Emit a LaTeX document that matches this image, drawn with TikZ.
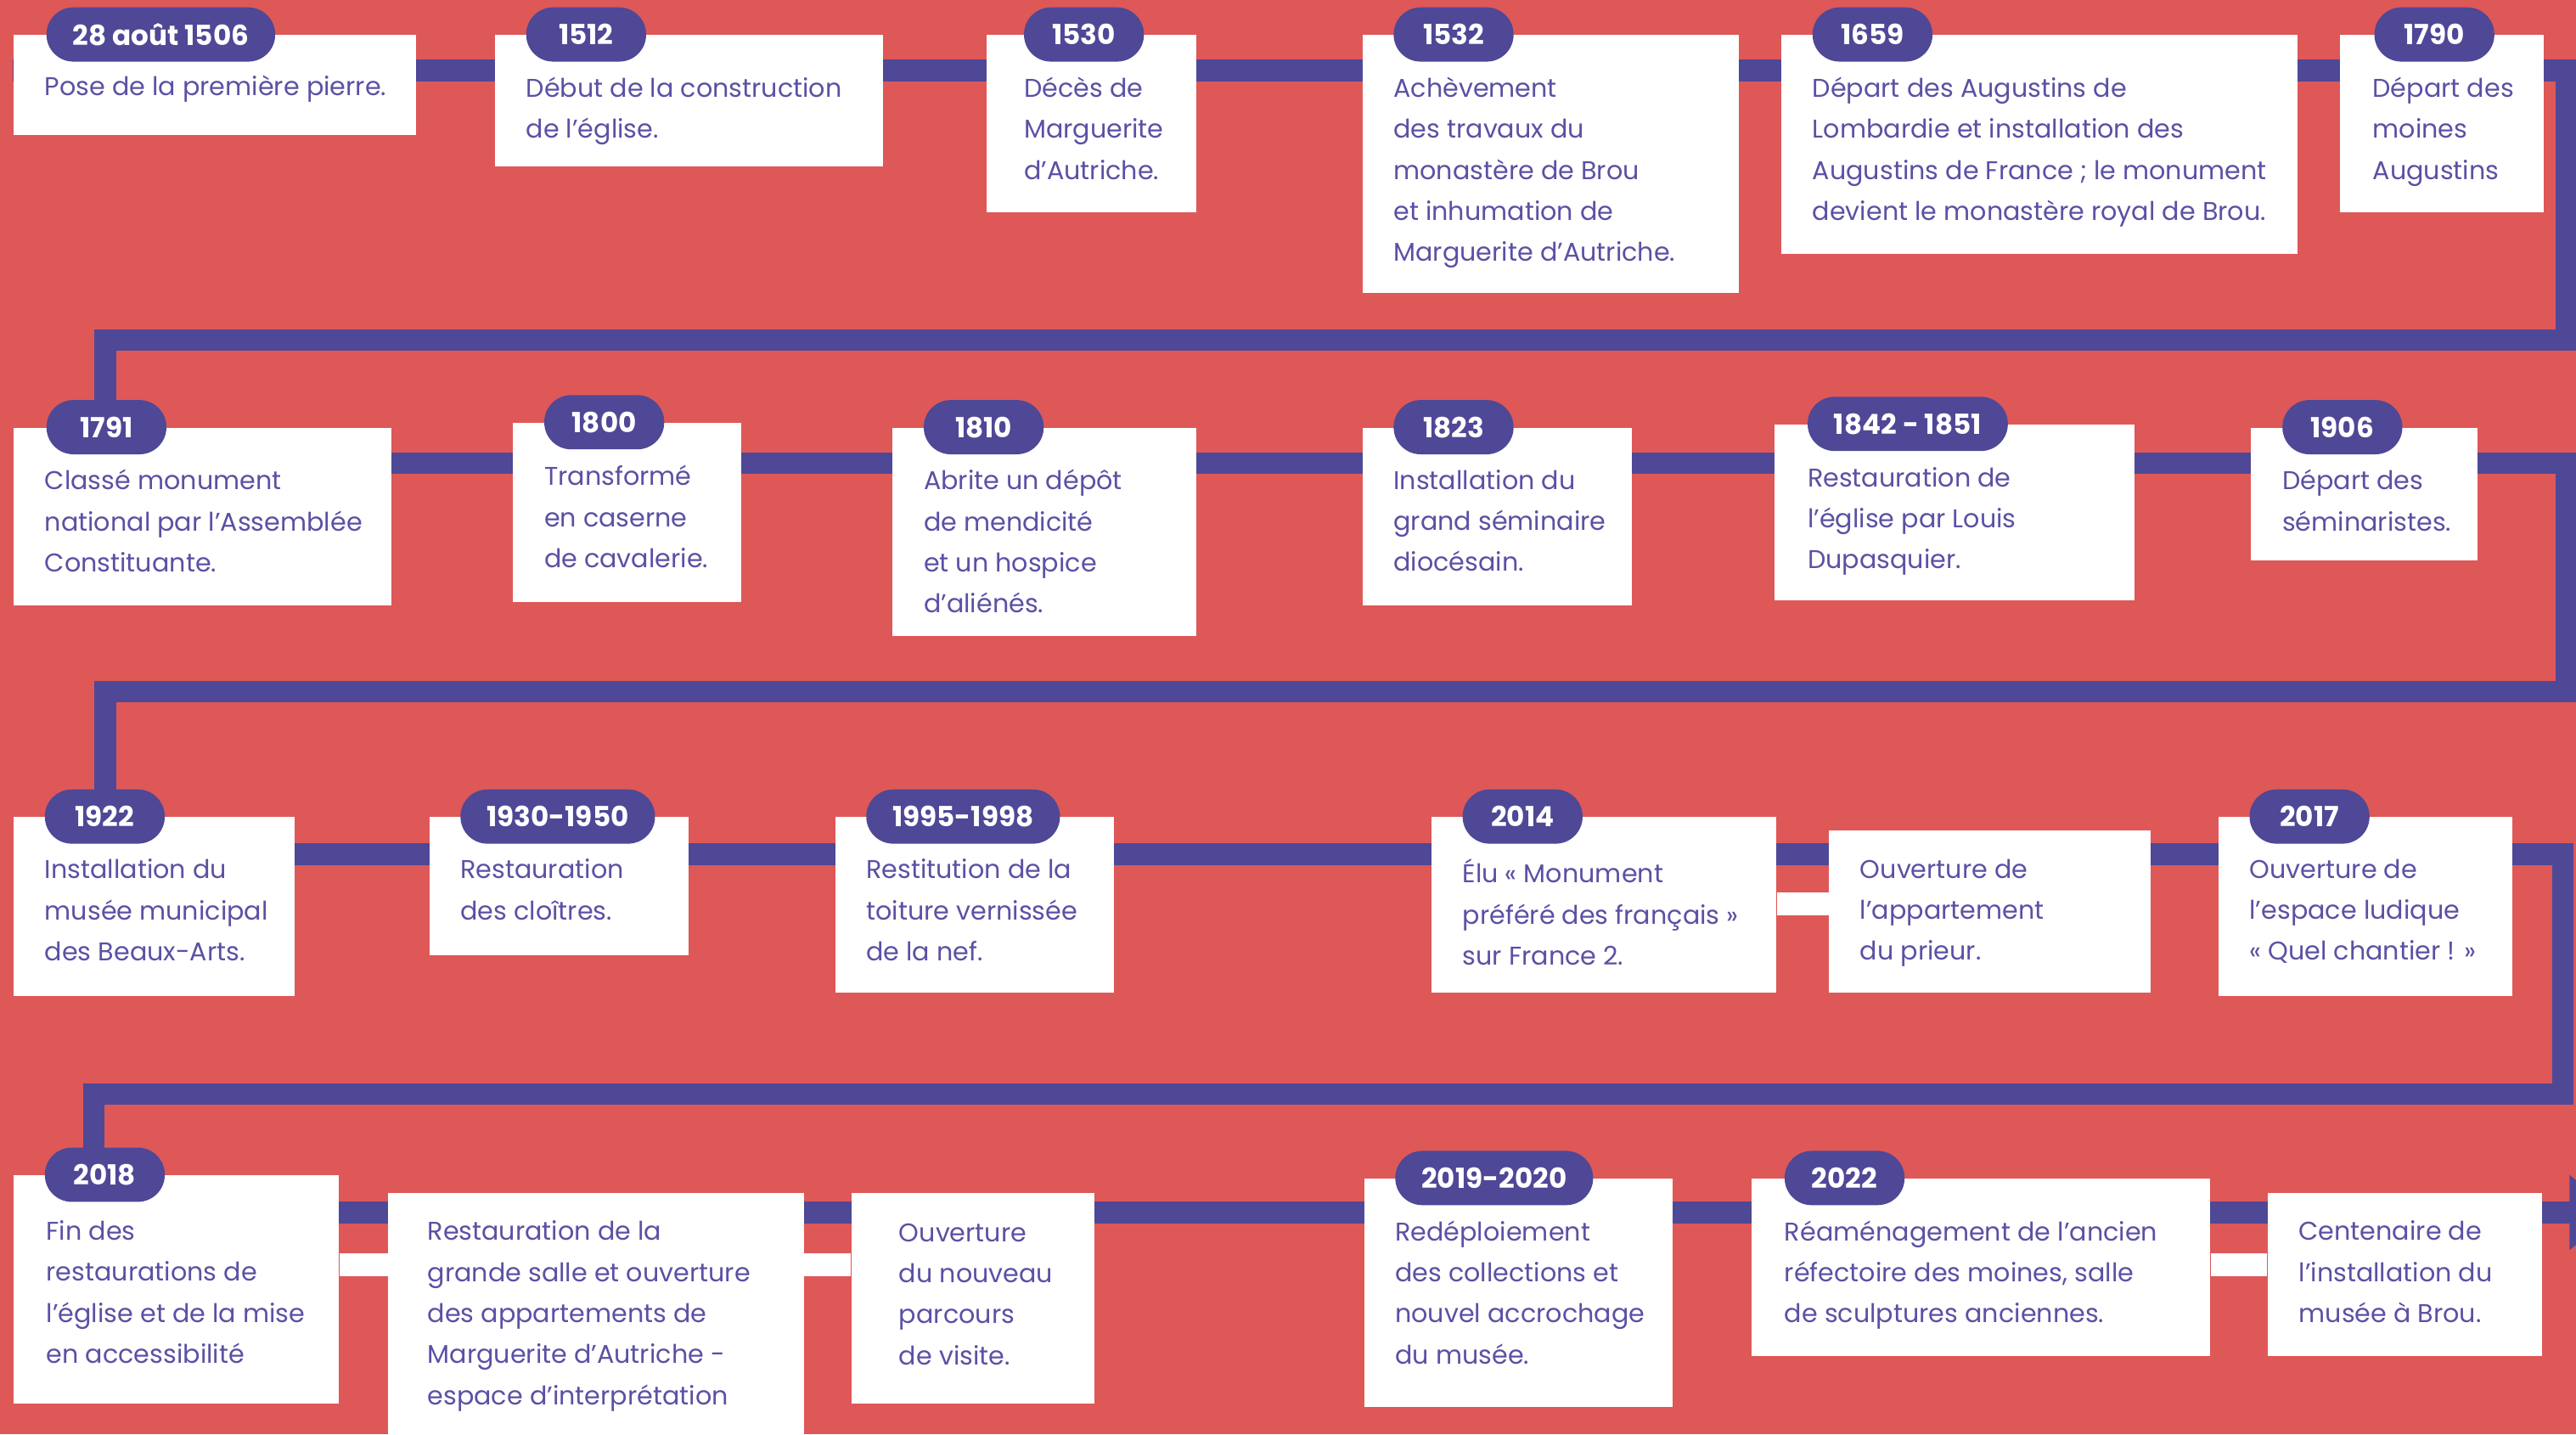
\documentclass[tikz,border=0pt]{standalone}
\usepackage{fontspec}
\setmainfont{Poppins}
\usetikzlibrary{arrows.meta}
\definecolor{brick}{HTML}{DE5858}
\definecolor{indigo}{HTML}{4E4896}
\definecolor{ink}{HTML}{5A51A4}

\begin{document}
\begin{tikzpicture}[x=0.025cm, y=-0.025cm,
    card/.style 2 args={fill=white, anchor=north west, inner sep=0pt,
        minimum width=#1*0.025cm, minimum height=#2*0.025cm},
    txt/.style={anchor=north west, align=left, inner sep=0pt, text=ink,
        font=\fontsize{11.1}{17.78}\selectfont, execute at begin node=\strut},
    year/.style={anchor=west, fill=indigo, text=white, rounded corners=0.41cm,
        minimum height=0.825cm, minimum width=1.825cm, inner xsep=0.4cm, inner ysep=0pt,
        font=\fontsize{12}{14}\selectfont\bfseries},
    spine/.style={draw=indigo, line width=0.33cm, line join=miter},
    link/.style={draw=white, line width=0.35cm}]

    \fill[brick] (0,0) rectangle (1568,873);
    \useasboundingbox (0,0) rectangle (1568,873);

    % the running line, zig-zag through the four rows
    \coordinate (start) at (8,43);
    \coordinate (bend1) at (1562,43);
    \coordinate (bend2) at (1562,207);
    \coordinate (bend3) at (64,207);
    \coordinate (bend4) at (64,282);
    \coordinate (bend5) at (1562,282);
    \coordinate (bend6) at (1562,421);
    \coordinate (bend7) at (64,421);
    \coordinate (bend8) at (64,520);
    \coordinate (bend9) at (1560,520);
    \coordinate (bend10) at (1560,666);
    \coordinate (bend11) at (57,666);
    \coordinate (bend12) at (57,738);
    \coordinate (finish) at (1592,738);
    \draw[spine, -{Triangle[width=1.1cm, length=0.7cm]}] (start) -- (bend1) -- (bend2) -- (bend3)
        -- (bend4) -- (bend5) -- (bend6) -- (bend7) -- (bend8) -- (bend9) -- (bend10)
        -- (bend11) -- (bend12) -- (finish);

    % row 1
    \node[card={245}{61}] (b1506) at (8,21) {};
    \node[txt] (t1506) at ([xshift=0.475cm, yshift=-0.49cm]b1506.north west) {Pose de la première pierre.};
    \node[year] (y1506) at ([xshift=0.5cm]b1506.north west) {28 août 1506};

    \node[card={236}{80}] (b1512) at (301,21) {};
    \node[txt] (t1512) at ([xshift=0.475cm, yshift=-0.64cm]b1512.north west) {Début de la construction\\de l’église.};
    \node[year] (y1512) at ([xshift=0.475cm]b1512.north west) {1512};

    \node[card={128}{108}] (b1530) at (600,21) {};
    \node[txt] (t1530) at ([xshift=0.575cm, yshift=-0.64cm]b1530.north west) {Décès de\\Marguerite\\d’Autriche.};
    \node[year] (y1530) at ([xshift=0.575cm]b1530.north west) {1530};

    \node[card={229}{157}] (b1532) at (829,21) {};
    \node[txt] (t1532) at ([xshift=0.475cm, yshift=-0.64cm]b1532.north west) {Achèvement\\des travaux du\\monastère de Brou\\et inhumation de\\Marguerite d’Autriche.};
    \node[year] (y1532) at ([xshift=0.475cm]b1532.north west) {1532};

    \node[card={314}{133}] (b1659) at (1084,21) {};
    \node[txt] (t1659) at ([xshift=0.475cm, yshift=-0.64cm]b1659.north west) {Départ des Augustins de\\Lombardie et installation des\\Augustins de France ; le monument\\devient le monastère royal de Brou.};
    \node[year] (y1659) at ([xshift=0.475cm]b1659.north west) {1659};

    \node[card={124}{108}] (b1790) at (1424,21) {};
    \node[txt] (t1790) at ([xshift=0.5cm, yshift=-0.64cm]b1790.north west) {Départ des\\moines\\Augustins};
    \node[year] (y1790) at ([xshift=0.525cm]b1790.north west) {1790};

    % row 2
    \node[card={230}{108}] (b1791) at (8,260) {};
    \node[txt] (t1791) at ([xshift=0.475cm, yshift=-0.64cm]b1791.north west) {Classé monument\\national par l’Assemblée\\Constituante.};
    \node[year] (y1791) at ([xshift=0.5cm]b1791.north west) {1791};

    \node[card={139}{109}] (b1800) at (312,257) {};
    \node[txt] (t1800) at ([xshift=0.475cm, yshift=-0.65cm]b1800.north west) {Transformé\\en caserne\\de cavalerie.};
    \node[year] (y1800) at ([xshift=0.475cm]b1800.north west) {1800};

    \node[card={185}{127}] (b1810) at (543,260) {};
    \node[txt] (t1810) at ([xshift=0.475cm, yshift=-0.64cm]b1810.north west) {Abrite un dépôt\\de mendicité\\et un hospice\\d’aliénés.};
    \node[year] (y1810) at ([xshift=0.475cm]b1810.north west) {1810};

    \node[card={164}{108}] (b1823) at (829,260) {};
    \node[txt] (t1823) at ([xshift=0.475cm, yshift=-0.64cm]b1823.north west) {Installation du\\grand séminaire\\diocésain.};
    \node[year] (y1823) at ([xshift=0.475cm]b1823.north west) {1823};

    \node[card={219}{107}] (b1842) at (1080,258) {};
    \node[txt] (t1842) at ([xshift=0.5cm, yshift=-0.65cm]b1842.north west) {Restauration de\\l’église par Louis\\Dupasquier.};
    \node[year] (y1842) at ([xshift=0.5cm]b1842.north west) {1842 - 1851};

    \node[card={138}{81}] (b1906) at (1370,260) {};
    \node[txt] (t1906) at ([xshift=0.475cm, yshift=-0.64cm]b1906.north west) {Départ des\\séminaristes.};
    \node[year] (y1906) at ([xshift=0.475cm]b1906.north west) {1906};

    % row 3
    \node[card={171}{109}] (b1922) at (8,497) {};
    \node[txt] (t1922) at ([xshift=0.475cm, yshift=-0.64cm]b1922.north west) {Installation du\\musée municipal\\des Beaux-Arts.};
    \node[year] (y1922) at ([xshift=0.475cm]b1922.north west) {1922};

    \node[card={158}{84}] (b1930) at (261,497) {};
    \node[txt] (t1930) at ([xshift=0.475cm, yshift=-0.64cm]b1930.north west) {Restauration\\des cloîtres.};
    \node[year] (y1930) at ([xshift=0.475cm]b1930.north west) {1930-1950};

    \node[card={170}{107}] (b1995) at (508,497) {};
    \node[txt] (t1995) at ([xshift=0.475cm, yshift=-0.64cm]b1995.north west) {Restitution de la\\toiture vernissée\\de la nef.};
    \node[year] (y1995) at ([xshift=0.475cm]b1995.north west) {1995-1998};

    \node[card={210}{107}] (b2014) at (871,497) {};
    \node[txt] (t2014) at ([xshift=0.475cm, yshift=-0.64cm]b2014.north west) {Élu « Monument\\préféré des français »\\sur France 2.};
    \node[year] (y2014) at ([xshift=0.475cm]b2014.north west) {2014};

    \node[card={196}{99}] (b2014prieur) at (1113,505) {};
    \node[txt] (t2014prieur) at ([xshift=0.475cm, yshift=-0.44cm]b2014prieur.north west) {Ouverture de\\l’appartement\\du prieur.};

    \node[card={179}{109}] (b2017) at (1350,497) {};
    \node[txt] (t2017) at ([xshift=0.475cm, yshift=-0.64cm]b2017.north west) {Ouverture de\\l’espace ludique\\« Quel chantier ! »};
    \node[year] (y2017) at ([xshift=0.475cm]b2017.north west) {2017};

    % row 4
    \node[card={198}{139}] (b2018) at (8,715) {};
    \node[txt] (t2018) at ([xshift=0.5cm, yshift=-0.69cm]b2018.north west) {Fin des\\restaurations de\\l’église et de la mise\\en accessibilité};
    \node[year] (y2018) at ([xshift=0.475cm]b2018.north west) {2018};

    \node[card={253}{148}] (b2018salle) at (236,726) {};
    \node[txt] (t2018salle) at ([xshift=0.6cm, yshift=-0.42cm]b2018salle.north west) {Restauration de la\\grande salle et ouverture\\des appartements de\\Marguerite d’Autriche -\\espace d’interprétation};

    \node[card={148}{128}] (b2018parcours) at (518,726) {};
    \node[txt] (t2018parcours) at ([xshift=0.725cm, yshift=-0.46cm]b2018parcours.north west) {Ouverture\\du nouveau\\parcours\\de visite.};

    \node[card={188}{139}] (b2019) at (830,717) {};
    \node[txt] (t2019) at ([xshift=0.475cm, yshift=-0.64cm]b2019.north west) {Redéploiement\\des collections et\\nouvel accrochage\\du musée.};
    \node[year] (y2019) at ([xshift=0.475cm]b2019.north west) {2019-2020};

    \node[card={279}{108}] (b2022) at (1066,717) {};
    \node[txt] (t2022) at ([xshift=0.5cm, yshift=-0.64cm]b2022.north west) {Réaménagement de l’ancien\\réfectoire des moines, salle\\de sculptures anciennes.};
    \node[year] (y2022) at ([xshift=0.5cm]b2022.north west) {2022};

    \node[card={167}{99}] (b2022musee) at (1380,726) {};
    \node[txt] (t2022musee) at ([xshift=0.475cm, yshift=-0.42cm]b2022musee.north west) {Centenaire de\\l’installation du\\musée à Brou.};

    % white bridges between cards of the same year
    \draw[link] (b2014.east |- 0,550) -- (b2014prieur.west |- 0,550);
    \draw[link] (b2018.east |- 0,770) -- (b2018salle.west |- 0,770);
    \draw[link] (b2018salle.east |- 0,770) -- (b2018parcours.west |- 0,770);
    \draw[link] (b2022.east |- 0,770) -- (b2022musee.west |- 0,770);
\end{tikzpicture}
\end{document}
